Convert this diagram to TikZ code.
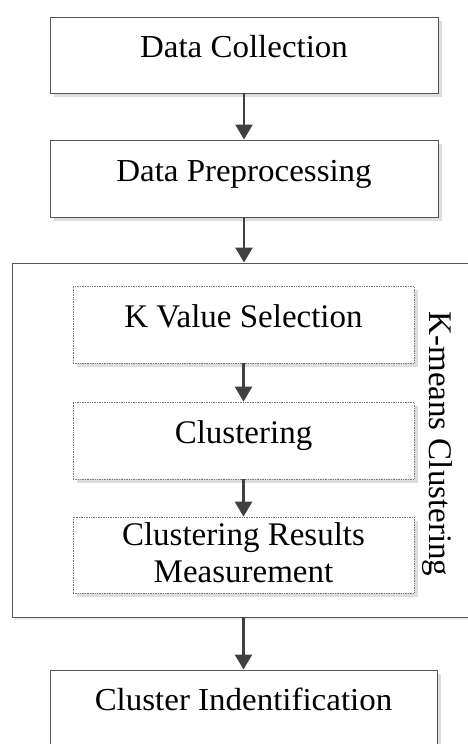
\documentclass[tikz,border=0pt]{standalone}
\usepackage{fontspec}
\setmainfont{Liberation Serif}
\newfontfamily\stagefont{Liberation Serif}[FakeStretch=1.03]
\usetikzlibrary{arrows.meta,shadows}

\definecolor{boxline}{HTML}{555555}
\definecolor{arrowgray}{HTML}{404040}
\definecolor{shadowgray}{HTML}{DDDDDD}

\tikzset{
  stagebox/.style={draw=boxline, line width=0.9pt, fill=white,
    minimum width=388pt, minimum height=76pt, inner sep=0pt,
    text height=0.7em, text depth=0.2em,
    font=\stagefont\fontsize{32}{37}\selectfont,
    drop shadow={shadow xshift=4pt, shadow yshift=-4pt, fill=shadowgray, opacity=1}},
  substep/.style={draw=boxline!80, densely dotted, line width=0.7pt, fill=white,
    minimum width=341pt, minimum height=77pt, inner sep=0pt, align=center,
    font=\fontsize{33}{37}\selectfont,
    drop shadow={shadow xshift=4pt, shadow yshift=-4pt, fill=shadowgray, opacity=1}},
  oneline/.style={text height=0.7em, text depth=0.2em},
  flow/.style={draw=arrowgray, line width=2.5pt,
    -{Triangle[width=17pt,length=15pt]}}
}

\begin{document}
\begin{tikzpicture}[x=1pt,y=-1pt]
    \useasboundingbox (0,0) rectangle (468,744);

    % outer group
    \node[draw=boxline, line width=0.9pt, fill=white, minimum width=463pt,
          minimum height=354pt, inner sep=0pt,
          drop shadow={shadow xshift=3pt, shadow yshift=-3pt, fill=shadowgray!60, opacity=1}]
          (kmeans) at (243.5,440) {};
    \node[rotate=-90, font=\fontsize{33}{37}\selectfont] (kmeanslabel) at (437,444) {K-means Clustering};

    \node[stagebox] (collect) at (244,55) {Data Collection};
    \node[stagebox, minimum height=77pt] (prep) at (244,178.5) {Data Preprocessing};

    \node[substep, oneline] (kvalue) at (243.5,324.5) {K Value Selection};
    \node[substep, oneline] (cluster) at (243.5,440.5) {Clustering};
    \node[substep, minimum height=76pt, text depth=5.5pt] (measure) at (243.5,555) {Clustering Results\\Measurement};

    \node[stagebox, minimum width=387pt, minimum height=80pt, text depth=0.575em]
          (ident) at (243.5,710) {Cluster Indentification};

    \draw[flow] (collect) -- (prep);
    \draw[flow] (prep.south) -- (prep.south |- kmeans.north);
    \draw[flow] (kvalue) -- (cluster);
    \draw[flow] (cluster) -- (measure);
    \draw[flow] (ident.north |- kmeans.south) -- (ident.north);
\end{tikzpicture}
\end{document}
